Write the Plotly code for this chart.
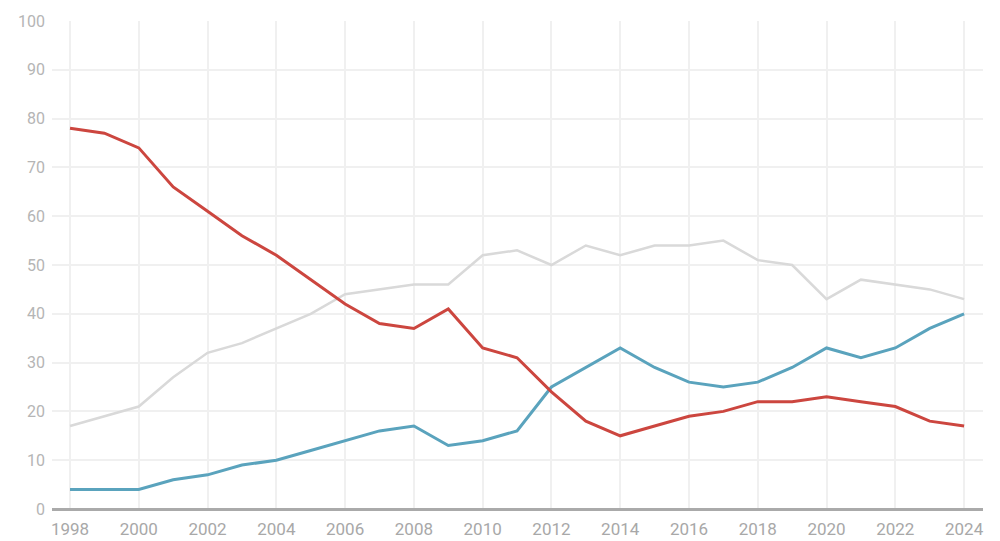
import plotly.graph_objects as go

years = list(range(1998, 2025))
red = [78, 77, 74, 66, 61, 56, 52, 47, 42, 38, 37, 41, 33, 31, 24, 18, 15, 17, 19, 20, 22, 22, 23, 22, 21, 18, 17]
blue = [4, 4, 4, 6, 7, 9, 10, 12, 14, 16, 17, 13, 14, 16, 25, 29, 33, 29, 26, 25, 26, 29, 33, 31, 33, 37, 40]
grey = [17, 19, 21, 27, 32, 34, 37, 40, 44, 45, 46, 46, 52, 53, 50, 54, 52, 54, 54, 55, 51, 50, 43, 47, 46, 45, 43]
x_ticks = list(range(1998, 2025, 2))
y_ticks = list(range(0, 101, 10))

fig = go.Figure()
fig.add_trace(go.Scatter(x=years, y=grey, mode="lines", line=dict(color="#d9d9d9", width=2.5), showlegend=False))
fig.add_trace(go.Scatter(x=years, y=blue, mode="lines", line=dict(color="#5aa3bd", width=3), showlegend=False))
fig.add_trace(go.Scatter(x=years, y=red, mode="lines", line=dict(color="#cc463f", width=3), showlegend=False))

fig.update_layout(
    width=1000, height=541,
    margin=dict(l=44, r=25, t=13, b=40, autoexpand=False),
    paper_bgcolor="white", plot_bgcolor="white",
    font=dict(family="Roboto", color="#b0b0b0", size=16),
    xaxis=dict(range=[1997.476, 2024.55], tickvals=x_ticks, ticktext=[str(v) for v in x_ticks],
               showgrid=True, gridcolor="#f0f0f0", gridwidth=1.5, zeroline=False, automargin=False,
               showline=False, ticks="", ticklabelstandoff=8, tickfont=dict(size=17, color="#a8a8a8")),
    yaxis=dict(range=[0, 100], tickvals=y_ticks, showgrid=True, gridcolor="#f0f0f0", gridwidth=1.5,
               zeroline=True, zerolinecolor="#aaaaaa", zerolinewidth=3, ticks="", automargin=False,
               ticklabelstandoff=6, tickfont=dict(size=16, color="#b5b5b5")),
)
fig.write_html("out.html")
